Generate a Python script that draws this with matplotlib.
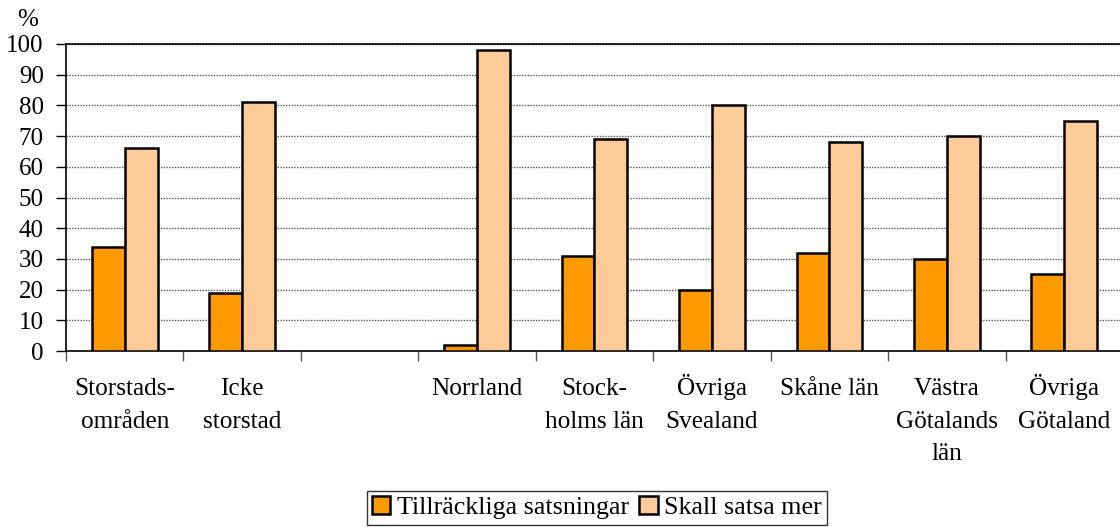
import matplotlib
matplotlib.use("Agg")
import matplotlib.pyplot as plt
import matplotlib.transforms as mtransforms
import numpy as np
from matplotlib.ticker import FixedLocator

categories = ["Storstads-\nområden", "Icke\nstorstad", "", "Norrland", "Stock-\nholms län",
              "Övriga\nSvealand", "Skåne län", "Västra\nGötalands\nlän", "Övriga\nGötaland"]
tillrackliga = [34, 19, np.nan, 2, 31, 20, 32, 30, 25]
skall_mer = [66, 81, np.nan, 98, 69, 80, 68, 70, 75]
series_names = ["Tillräckliga satsningar", "Skall satsa mer"]
yticks = list(range(0, 101, 10))

plt.rcParams['font.family'] = ['Liberation Serif', 'DejaVu Serif']

W, H = 1120, 527
fig = plt.figure(figsize=(W / 100, H / 100), dpi=100)
left, right = 66, 1123
bottom, top = 351, 44
ax = fig.add_axes([left / W, 1 - bottom / H, (right - left) / W, (bottom - top) / H])

x = np.arange(len(categories))
bw = 0.28
ax.bar(x - bw / 2, tillrackliga, bw, color="#FF9900", edgecolor="black", linewidth=1.8,
       label=series_names[0], zorder=3)
ax.bar(x + bw / 2, skall_mer, bw, color="#FFCC99", edgecolor="black", linewidth=1.8,
       label=series_names[1], zorder=3)

ax.set_xlim(-0.5, len(categories) - 0.5)
ax.set_ylim(0, 100)
ax.set_yticks(yticks)
ax.set_yticklabels([str(v) for v in yticks], fontsize=18)
ax.yaxis.grid(True, color="#555555", linestyle=(0, (1, 1)), linewidth=1.0, zorder=0)
ax.set_axisbelow(True)

# category labels: first lines share a common baseline
ax.set_xticks([])
ax.xaxis.set_minor_locator(FixedLocator(np.arange(-0.5, len(categories), 1.0)))
ax.tick_params(axis='x', which='minor', length=7, width=1, color="#555555")
ax.tick_params(axis='y', length=7, width=1, pad=9)

line_px = 32.5
first_baseline_px = 44  # below the x axis
blend = mtransforms.blended_transform_factory(ax.transData, ax.transAxes)
for xi, lab in zip(x, categories):
    if not lab:
        continue
    lines = lab.split("\n")
    for k, line in enumerate(lines):
        dy = -(first_baseline_px + k * line_px) * 72 / 100
        tr = mtransforms.offset_copy(blend, fig=fig, x=0, y=dy, units="points")
        ax.text(xi, 0, line, transform=tr, ha="center", va="baseline", fontsize=18.2,
                clip_on=False)

for s in ["left", "bottom", "top"]:
    ax.spines[s].set_color("black")
    ax.spines[s].set_linewidth(1.2)
ax.spines["right"].set_visible(False)

fig.text(28 / W, 1 - 20 / H, "%", fontsize=18, ha="center", va="center")

leg = fig.legend(loc="upper left", bbox_to_anchor=(367 / W, 1 - 491 / H), ncol=2,
                 fontsize=18.7, frameon=True, fancybox=False, edgecolor="black",
                 handlelength=0.7, handleheight=0.7, handletextpad=0.25, columnspacing=0.4,
                 borderpad=0.2, borderaxespad=0)
leg.get_frame().set_linewidth(1.0)
for h in leg.legend_handles:
    h.set_linewidth(1.8)

fig.savefig("out.png", dpi=100)
